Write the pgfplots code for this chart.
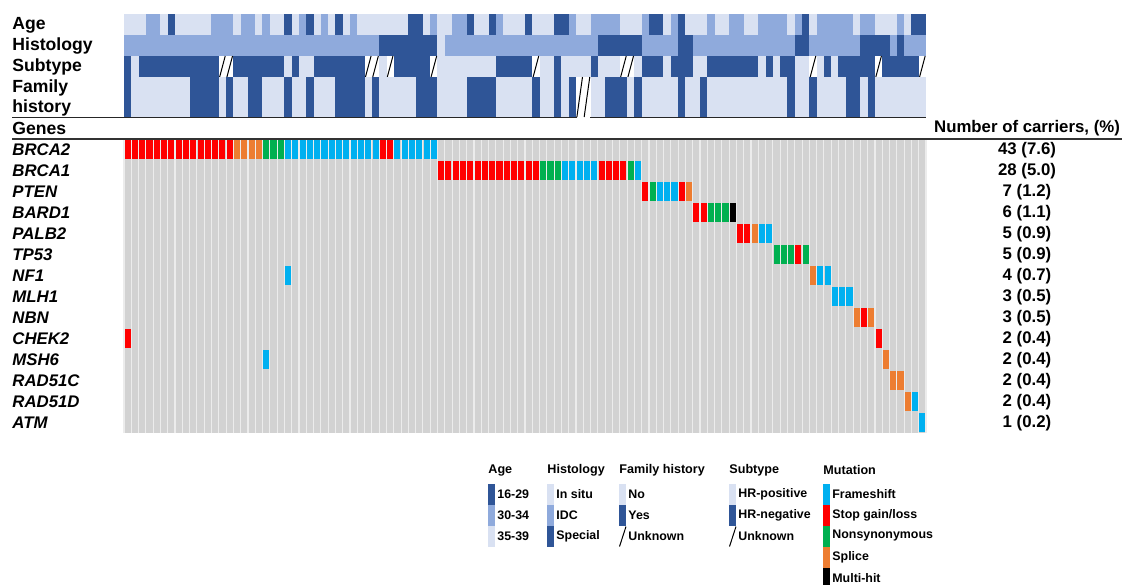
\documentclass[border=0pt]{standalone}
\usepackage{fontspec}
\setmainfont{Liberation Sans}
\usepackage{pgfplots}
\usepackage{pgfplotstable}
\pgfplotsset{compat=1.18}
\definecolor{ldb}{HTML}{D9E1F2}
\definecolor{mdb}{HTML}{8FAADC}
\definecolor{ddb}{HTML}{2F5597}
\definecolor{cgray}{HTML}{D2D2D2}
\definecolor{cgrid}{HTML}{ECECEC}
\definecolor{fsh}{HTML}{00B0F0}
\definecolor{stp}{HTML}{FF0000}
\definecolor{nsy}{HTML}{00B050}
\definecolor{spl}{HTML}{ED7D31}
\pgfdeclareplotmark{cell}{\pgfpathrectangle{\pgfqpoint{-1.85pt}{-5.3pt}}{\pgfqpoint{3.7pt}{10.6pt}}\pgfusepathqfill}
\pgfdeclareplotmark{tcell}{\pgfpathrectangle{\pgfqpoint{-1.85pt}{-10.05pt}}{\pgfqpoint{3.7pt}{20.1pt}}\pgfusepathqfill}
\pgfdeclareplotmark{uslash}{\pgfpathmoveto{\pgfqpoint{-1.4pt}{-5.25pt}}\pgfpathlineto{\pgfqpoint{1.4pt}{5.25pt}}\pgfusepathqstroke}
\pgfdeclareplotmark{tslash}{\pgfpathmoveto{\pgfqpoint{-1.4pt}{-10pt}}\pgfpathlineto{\pgfqpoint{1.4pt}{10pt}}\pgfusepathqstroke}
\pgfdeclareplotmark{gcell}{\pgfpathrectangle{\pgfqpoint{-1.52pt}{-4.75pt}}{\pgfqpoint{3.04pt}{9.5pt}}\pgfusepathqfill}
\pgfplotsset{
  annclasses/.style={scatter, only marks, scatter src=explicit symbolic,
    scatter/classes={l={mark=#1,color=ldb}, m={mark=#1,color=mdb}, d={mark=#1,color=ddb}, u={mark=none}}},
  unk/.style={only marks, mark=#1, color=black, line width=0.5pt},
}
\begin{document}
\begin{tikzpicture}
% ---------- annotation tracks ----------
\begin{axis}[at={(62pt,-7pt)}, anchor=north west, scale only axis, width=401pt, height=51.5pt,
  xmin=0, xmax=110, ymin=-117, ymax=-14, hide axis, clip=false]
% Age
\addplot[annclasses=cell] table[x expr=\thisrow{c}+0.5, y expr=-24.5, meta=k, row sep=\\] {c k\\
0 l\\1 l\\2 l\\3 m\\4 m\\5 l\\6 d\\7 l\\8 l\\9 l\\10 l\\11 l\\12 m\\13 m\\14 m\\15 l\\16 m\\17 m\\18 l\\19 m\\20 l\\21 l\\22 d\\23 l\\24 m\\25 d\\26 l\\27 m\\28 l\\29 d\\30 l\\31 m\\32 l\\33 l\\34 l\\35 l\\36 l\\37 l\\38 l\\39 d\\40 d\\41 l\\42 m\\43 l\\44 l\\45 m\\46 m\\47 d\\48 l\\49 l\\50 d\\51 m\\52 l\\53 l\\54 l\\55 d\\56 l\\57 l\\58 l\\59 d\\60 d\\61 m\\62 l\\63 l\\64 m\\65 m\\66 m\\67 m\\68 l\\69 l\\70 l\\71 m\\72 d\\73 d\\74 l\\75 m\\76 d\\77 l\\78 l\\79 l\\80 m\\81 l\\82 l\\83 m\\84 m\\85 l\\86 l\\87 m\\88 m\\89 m\\90 m\\91 l\\92 m\\93 d\\94 l\\95 m\\96 m\\97 m\\98 m\\99 m\\100 l\\101 m\\102 m\\103 l\\104 l\\105 l\\106 m\\107 l\\108 d\\109 d\\
};
% Histology
\addplot[annclasses=cell] table[x expr=\thisrow{c}+0.5, y expr=-45.5, meta=k, row sep=\\] {c k\\
0 m\\1 m\\2 m\\3 m\\4 m\\5 m\\6 m\\7 m\\8 m\\9 m\\10 m\\11 m\\12 m\\13 m\\14 m\\15 m\\16 m\\17 m\\18 m\\19 m\\20 m\\21 m\\22 m\\23 m\\24 m\\25 m\\26 m\\27 m\\28 m\\29 m\\30 m\\31 m\\32 m\\33 m\\34 m\\35 d\\36 d\\37 d\\38 d\\39 d\\40 d\\41 d\\42 d\\43 l\\44 m\\45 m\\46 m\\47 m\\48 m\\49 m\\50 m\\51 m\\52 m\\53 m\\54 m\\55 m\\56 m\\57 m\\58 m\\59 m\\60 m\\61 m\\62 m\\63 m\\64 m\\65 d\\66 d\\67 d\\68 d\\69 d\\70 d\\71 m\\72 m\\73 m\\74 m\\75 m\\76 d\\77 d\\78 m\\79 m\\80 m\\81 m\\82 m\\83 m\\84 m\\85 m\\86 m\\87 m\\88 m\\89 m\\90 m\\91 m\\92 d\\93 d\\94 m\\95 m\\96 m\\97 m\\98 m\\99 m\\100 m\\101 d\\102 d\\103 d\\104 d\\105 m\\106 d\\107 m\\108 m\\109 m\\
};
% Subtype
\addplot[annclasses=cell] table[x expr=\thisrow{c}+0.5, y expr=-66.5, meta=k, row sep=\\] {c k\\
0 d\\1 l\\2 d\\3 d\\4 d\\5 d\\6 d\\7 d\\8 d\\9 d\\10 d\\11 d\\12 d\\13 u\\14 u\\15 d\\16 d\\17 d\\18 d\\19 d\\20 d\\21 d\\22 l\\23 d\\24 l\\25 l\\26 d\\27 d\\28 d\\29 d\\30 d\\31 d\\32 d\\33 u\\34 u\\35 l\\36 u\\37 d\\38 d\\39 d\\40 d\\41 d\\42 u\\43 l\\44 l\\45 l\\46 l\\47 l\\48 l\\49 l\\50 l\\51 d\\52 d\\53 d\\54 d\\55 d\\56 u\\57 l\\58 l\\59 d\\60 l\\61 l\\62 l\\63 l\\64 d\\65 l\\66 l\\67 l\\68 u\\69 u\\70 l\\71 d\\72 d\\73 d\\74 l\\75 d\\76 d\\77 d\\78 l\\79 l\\80 d\\81 d\\82 d\\83 d\\84 d\\85 d\\86 d\\87 l\\88 d\\89 l\\90 d\\91 d\\92 l\\93 l\\94 u\\95 l\\96 d\\97 l\\98 d\\99 d\\100 d\\101 d\\102 d\\103 u\\104 d\\105 d\\106 d\\107 d\\108 d\\109 u\\
};
\addplot[unk=uslash] coordinates {(13.5,-66.5) (14.5,-66.5) (33.5,-66.5) (34.5,-66.5) (36.5,-66.5) (42.5,-66.5) (56.5,-66.5) (68.5,-66.5) (69.5,-66.5) (94.5,-66.5) (103.5,-66.5) (109.5,-66.5)};
% Family history
\addplot[annclasses=tcell] table[x expr=\thisrow{c}+0.5, y expr=-97, meta=k, row sep=\\] {c k\\
0 d\\1 l\\2 l\\3 l\\4 l\\5 l\\6 l\\7 l\\8 l\\9 d\\10 d\\11 d\\12 d\\13 l\\14 d\\15 l\\16 l\\17 d\\18 d\\19 l\\20 l\\21 l\\22 d\\23 l\\24 l\\25 d\\26 l\\27 l\\28 l\\29 d\\30 d\\31 d\\32 d\\33 l\\34 d\\35 l\\36 l\\37 l\\38 l\\39 l\\40 d\\41 d\\42 d\\43 l\\44 l\\45 l\\46 l\\47 d\\48 d\\49 d\\50 d\\51 l\\52 l\\53 l\\54 l\\55 l\\56 d\\57 l\\58 l\\59 d\\60 l\\61 d\\62 u\\63 u\\64 l\\65 l\\66 d\\67 d\\68 d\\69 l\\70 d\\71 l\\72 l\\73 l\\74 l\\75 l\\76 d\\77 l\\78 l\\79 d\\80 l\\81 l\\82 l\\83 l\\84 l\\85 l\\86 l\\87 l\\88 l\\89 l\\90 l\\91 d\\92 l\\93 l\\94 d\\95 l\\96 l\\97 l\\98 l\\99 d\\100 d\\101 l\\102 d\\103 l\\104 l\\105 l\\106 l\\107 l\\108 l\\109 l\\
};
\addplot[unk=tslash] coordinates {(62.5,-97) (63.5,-97)};
\end{axis}
% ---------- gene grid ----------
\begin{axis}[at={(62pt,-69.65pt)}, anchor=north west, scale only axis, width=401pt, height=147pt,
  xmin=0, xmax=110, ymin=0, ymax=14, axis line style={draw=none}, tick style={draw=none},
  major tick length=0pt, minor tick length=0pt,
  xtick={0,...,110}, xticklabels={}, ytick=\empty, minor ytick={0,...,14},
  xmajorgrids, yminorgrids,
  major grid style={cgrid, line width=0.55pt}, minor grid style={cgrid, line width=1pt},
  axis background/.style={fill=cgray}, axis on top, clip=false]
% Frameshift
\addplot[only marks, mark=gcell, color=fsh] coordinates {
(22.5,13.5)(23.5,13.5)(24.5,13.5)(25.5,13.5)(26.5,13.5)(27.5,13.5)(28.5,13.5)(29.5,13.5)(30.5,13.5)(31.5,13.5)(32.5,13.5)(33.5,13.5)(34.5,13.5)
(37.5,13.5)(38.5,13.5)(39.5,13.5)(40.5,13.5)(41.5,13.5)(42.5,13.5)
(60.5,12.5)(61.5,12.5)(62.5,12.5)(63.5,12.5)(64.5,12.5)(70.5,12.5)
(73.5,11.5)(74.5,11.5)(75.5,11.5)
(87.5,9.5)(88.5,9.5)
(22.5,7.5)(95.5,7.5)(96.5,7.5)
(97.5,6.5)(98.5,6.5)(99.5,6.5)
(19.5,3.5)(108.5,1.5)(109.5,0.5)};
% Stop gain/loss
\addplot[only marks, mark=gcell, color=stp] coordinates {
(0.5,13.5)(1.5,13.5)(2.5,13.5)(3.5,13.5)(4.5,13.5)(5.5,13.5)(6.5,13.5)(7.5,13.5)(8.5,13.5)(9.5,13.5)(10.5,13.5)(11.5,13.5)(12.5,13.5)(13.5,13.5)(14.5,13.5)
(35.5,13.5)(36.5,13.5)
(43.5,12.5)(44.5,12.5)(45.5,12.5)(46.5,12.5)(47.5,12.5)(48.5,12.5)(49.5,12.5)(50.5,12.5)(51.5,12.5)(52.5,12.5)(53.5,12.5)(54.5,12.5)(55.5,12.5)(56.5,12.5)
(65.5,12.5)(66.5,12.5)(67.5,12.5)(68.5,12.5)
(71.5,11.5)(76.5,11.5)
(78.5,10.5)(79.5,10.5)
(84.5,9.5)(85.5,9.5)
(92.5,8.5)(101.5,5.5)(0.5,4.5)(103.5,4.5)};
% Nonsynonymous
\addplot[only marks, mark=gcell, color=nsy] coordinates {
(19.5,13.5)(20.5,13.5)(21.5,13.5)
(57.5,12.5)(58.5,12.5)(59.5,12.5)(69.5,12.5)
(72.5,11.5)
(80.5,10.5)(81.5,10.5)(82.5,10.5)
(89.5,8.5)(90.5,8.5)(91.5,8.5)(93.5,8.5)};
% Splice
\addplot[only marks, mark=gcell, color=spl] coordinates {
(15.5,13.5)(16.5,13.5)(17.5,13.5)(18.5,13.5)
(77.5,11.5)(86.5,9.5)(94.5,7.5)(100.5,5.5)(102.5,5.5)(104.5,3.5)(105.5,2.5)(106.5,2.5)(107.5,1.5)};
% Multi-hit
\addplot[only marks, mark=gcell, color=black] coordinates {(83.5,10.5)};
\end{axis}
% ---------- text and legend ----------
\begin{scope}[x=0.5pt,y=-0.5pt]
\tikzset{lab/.style={anchor=west, inner sep=0pt, font=\fontsize{8.8}{10}\selectfont\bfseries},
  gene/.style={anchor=west, inner sep=0pt, font=\fontsize{8.4}{10}\selectfont\bfseries\itshape},
  val/.style={anchor=center, inner sep=0pt, font=\fontsize{8.4}{10}\selectfont\bfseries},
  lgt/.style={anchor=west, inner sep=0pt, font=\fontsize{6.3}{7}\selectfont\bfseries},
  lgi/.style={anchor=west, inner sep=0pt, font=\fontsize{6.2}{7}\selectfont\bfseries}}
\node[lab] at (12,25) {Age};
\node[lab] at (12,45.5) {Histology};
\node[lab] at (12,66.5) {Subtype};
\node[lab] at (12,87.5) {Family};
\node[lab] at (12,107.5) {history};
\node[lab] at (12,128) {Genes};
\node[val] at (1027,128) {Number of carriers, (\%)};
\draw[line width=0.75pt, black!85] (12,117.6) -- (577,117.6);
\draw[line width=0.75pt, black!85] (590,117.6) -- (926,117.6);
\draw[line width=1pt, black!80] (12,139) -- (1122,139);
\foreach \g [count=\i from 0] in {BRCA2,BRCA1,PTEN,BARD1,PALB2,TP53,NF1,MLH1,NBN,CHEK2,MSH6,RAD51C,RAD51D,ATM}
  {\node[gene] at (12,{150+21*\i}) {\g};}
\foreach \v [count=\i from 0] in {43 (7.6),28 (5.0),7 (1.2),6 (1.1),5 (0.9),5 (0.9),4 (0.7),3 (0.5),3 (0.5),2 (0.4),2 (0.4),2 (0.4),2 (0.4),1 (0.2)}
  {\node[val] at (1027,{150+21*\i}) {\v};}
% legend titles
\node[lgt] at (488,470) {Age};
\node[lgt] at (547,470) {Histology};
\node[lgt] at (619,470) {Family history};
\node[lgt] at (729,470) {Subtype};
\node[lgt] at (823,470) {Mutation};
% Age
\fill[ddb] (488,483.5) rectangle (495,504.5);
\fill[mdb] (488,504.5) rectangle (495,525.5);
\fill[ldb] (488,525.5) rectangle (495,546.5);
\node[lgi] at (497,494) {16-29};
\node[lgi] at (497,515) {30-34};
\node[lgi] at (497,536) {35-39};
% Histology
\fill[ldb] (547,483.5) rectangle (554,504.5);
\fill[mdb] (547,504.5) rectangle (554,525.5);
\fill[ddb] (547,525.5) rectangle (554,546.5);
\node[lgi] at (556,494) {In situ};
\node[lgi] at (556,515) {IDC};
\node[lgi] at (556,536) {Special};
% Family history
\fill[ldb] (619,483.5) rectangle (626,504.5);
\fill[ddb] (619,504.5) rectangle (626,525.5);
\draw[line width=0.5pt] (619.5,546.5) -- (626,526.5);
\node[lgi] at (628,494) {No};
\node[lgi] at (628,515) {Yes};
\node[lgi] at (628,536) {Unknown};
% Subtype
\fill[ldb] (729,483.5) rectangle (736,504.5);
\fill[ddb] (729,504.5) rectangle (736,525.5);
\draw[line width=0.5pt] (729.5,546.5) -- (736,526.5);
\node[lgi] at (738,494) {HR-positive};
\node[lgi] at (738,515) {HR-negative};
\node[lgi] at (738,536) {Unknown};
% Mutation
\fill[fsh] (823,483.5) rectangle (830,504.5);
\fill[stp] (823,504.5) rectangle (830,525.5);
\fill[nsy] (823,525.5) rectangle (830,546.5);
\fill[spl] (823,546.5) rectangle (830,567.5);
\fill[black] (823,567.5) rectangle (830,585);
\node[lgi] at (832,494) {Frameshift};
\node[lgi] at (832,515) {Stop gain/loss};
\node[lgi] at (832,536) {Nonsynonymous};
\node[lgi] at (832,557) {Splice};
\node[lgi] at (832,578) {Multi-hit};
\pgfresetboundingbox
\path[use as bounding box] (0,0) rectangle (1127,585);
\end{scope}
\end{tikzpicture}
\end{document}
